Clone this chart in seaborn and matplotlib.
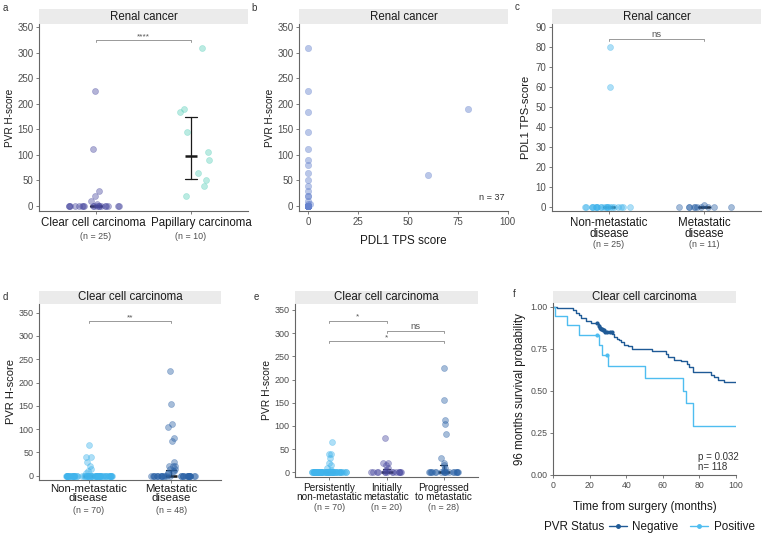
import numpy as np
import pandas as pd
import matplotlib
matplotlib.use("Agg")
import matplotlib.pyplot as plt
import seaborn as sns
from matplotlib.patches import Rectangle
from matplotlib.lines import Line2D

W, H = 762, 533

# ---------------- data ----------------
renal_groups = ["Clear cell carcinoma", "Papillary carcinoma"]
renal_n = [25, 10]
clear_cell_pvr = [225, 112, 30, 20, 10, 3] + [0] * 19
papillary_pvr = [310, 190, 185, 145, 105, 90, 65, 50, 40, 20]

pdl1_tps = [0] * 15 + [1, 60, 80] + [0] * 19
pdl1_pvr = [310, 225, 185, 145, 112, 90, 80, 65, 50, 40, 30, 20, 20, 10, 3] + [3, 60, 190] + [0] * 19

met_groups = ["Non-metastatic\ndisease", "Metastatic\ndisease"]
renal_met_n = [25, 11]
renal_nonmet_pdl1 = [80, 60] + [0] * 23
renal_met_pdl1 = [1] + [0] * 10

ccc_met_n = [70, 48]
ccc_nonmet_pvr = [65, 40, 40, 30, 20, 15, 10, 5] + [0] * 62
ccc_met_pvr = [225, 155, 112, 105, 82, 75, 30, 20, 20, 20, 15, 15, 10, 10, 5, 5] + [0] * 32

course_groups = ["Persistently\nnon-metastatic", "Initially\nmetastatic", "Progressed\nto metastatic"]
course_n = [70, 20, 28]
persist_pvr = ccc_nonmet_pvr
initial_pvr = [75, 20, 20, 15, 10, 5] + [0] * 14
progress_pvr = [225, 155, 112, 105, 82, 30, 20, 15, 10, 5] + [0] * 18

# Kaplan-Meier steps (months, survival)
neg_time = [0, 2, 11, 12.5, 14, 15.5, 18, 21, 24.5, 25, 25.5, 26, 27, 28, 32.5, 33.5, 35, 36,
            37, 39, 41, 43, 54, 62, 63, 66, 70, 73, 74.5, 76.5, 86.5, 88, 90, 93.5, 100]
neg_surv = [1.0, 0.99, 0.98, 0.965, 0.95, 0.93, 0.915, 0.905, 0.895, 0.885, 0.875, 0.865, 0.86,
            0.85, 0.835, 0.82, 0.81, 0.80, 0.79, 0.775, 0.765, 0.75, 0.737, 0.72, 0.70, 0.685,
            0.675, 0.66, 0.64, 0.61, 0.595, 0.58, 0.565, 0.55, 0.55]
neg_censor = [24, 25.2, 25.7, 26.3, 26.8, 27.3, 27.8, 28.5, 29.5, 31, 32]
pos_time = [0, 1, 7.5, 14, 25, 27, 30, 50, 71, 72.5, 76.5, 100]
pos_surv = [1.0, 0.944, 0.889, 0.833, 0.774, 0.714, 0.65, 0.577, 0.50, 0.43, 0.289, 0.289]
pos_censor = [24, 29.5]

# ---------------- style ----------------
sns.set_theme(style="ticks")
plt.rcParams['font.family'] = ['Liberation Sans', 'DejaVu Sans']
TICK_C = "#4d4d4d"
LABEL_C = "#1a1a1a"
SKY = "#40b4ec"
STEEL = "#2b62a6"
PURPLE = "#4a4aa0"
AQUA = "#5dd1bb"
LAVENDER = "#6783cd"

fig = plt.figure(figsize=(W / 100, H / 100), dpi=100)


def px_axes(l, t, r, b):
    return fig.add_axes([l / W, 1 - b / H, (r - l) / W, (b - t) / H])


def style_axes(ax, tick_size):
    sns.despine(ax=ax)
    for s in ("left", "bottom"):
        ax.spines[s].set_color("#666666")
        ax.spines[s].set_linewidth(0.8)
    ax.tick_params(length=2.5, width=0.6, color="#666666", labelcolor=TICK_C,
                   labelsize=tick_size, pad=1.5)


def strip(ax, title, px_h):
    h = px_h / (ax.get_position().height * H)
    ax.add_patch(Rectangle((0, 1), 1, h, transform=ax.transAxes, facecolor="#ebebeb",
                           edgecolor="none", clip_on=False))
    ax.text(0.5, 1 + h / 2, title, transform=ax.transAxes, ha="center", va="center",
            fontsize=8.3, color=LABEL_C)


def long_df(groups, values):
    return pd.DataFrame({"group": np.repeat(groups, [len(v) for v in values]),
                         "value": np.concatenate(values).astype(float)})


def draw_points(ax, df, order, colors, spread, edge_lw=0.5):
    for g in order:
        sub = df[df.group == g]
        for part, jit in ((sub[sub.value == 0], 0.3), (sub[sub.value != 0], spread[g])):
            if len(part):
                sns.stripplot(data=part, x="group", y="value", order=order, color=colors[g],
                              jitter=jit, size=4.3, alpha=0.42, linewidth=edge_lw,
                              edgecolor=colors[g], ax=ax)
    sns.pointplot(data=df, x="group", y="value", order=order, estimator="median",
                  errorbar=("pi", 50), color="#1a1a1a", marker="_", markersize=8.5,
                  markeredgewidth=1.8, linestyle="none", capsize=0.12,
                  err_kws={"linewidth": 0.9}, ax=ax)


def cat_labels(ax, order, ns, size, n_offset, n_size=6.4, shifts=None, top=4.2, spacing=0.88):
    shifts = shifts or [0] * len(order)
    ax.set_xticks(range(len(order)))
    ax.set_xticklabels([""] * len(order))
    for i, (lab, n, dx) in enumerate(zip(order, ns, shifts)):
        ax.annotate(lab, xy=(i, 0), xycoords=("data", "axes fraction"), xytext=(dx, -top),
                    textcoords="offset points", ha="center", va="top", fontsize=size,
                    color=LABEL_C, linespacing=spacing)
        ax.annotate(f"(n = {n})", xy=(i, 0), xycoords=("data", "axes fraction"),
                    xytext=(0, -n_offset), textcoords="offset points", ha="center",
                    va="center", fontsize=n_size, color=TICK_C)
    ax.set_xlabel("")


def sig_bar(ax, x1, x2, y, label, tip, size=6.5, gap=0.0):
    ax.plot([x1, x1, x2, x2], [y - tip, y, y, y - tip], color="#999999", lw=0.7, clip_on=False)
    ax.text((x1 + x2) / 2, y + gap, label, ha="center", va="bottom", fontsize=size,
            color="#555555")


np.random.seed(3)

# ---------------- a ----------------
ax = px_axes(39, 24, 248, 211)
df = long_df(renal_groups, [clear_cell_pvr, papillary_pvr])
draw_points(ax, df, renal_groups, {renal_groups[0]: PURPLE, renal_groups[1]: AQUA},
            {renal_groups[0]: 0.07, renal_groups[1]: 0.2})
ax.set_xlim(-0.6, 1.6)
ax.set_ylim(-9.8, 356.5)
ax.set_yticks(range(0, 351, 50))
style_axes(ax, 7)
cat_labels(ax, renal_groups, renal_n, 8.3, 18, shifts=[-2.2, 7.5])
ax.set_ylabel("PVR H-score", fontsize=7.2, color=LABEL_C, labelpad=2)
sig_bar(ax, 0, 1, 325, "****", 4, size=6)
strip(ax, "Renal cancer", 15)

# ---------------- b ----------------
ax = px_axes(299, 24, 508, 211)
sns.scatterplot(x=pdl1_tps, y=pdl1_pvr, color=LAVENDER, alpha=0.45, s=21, linewidth=0.4,
                edgecolor=LAVENDER, ax=ax)
ax.set_xlim(-4.6, 100.2)
ax.set_ylim(-9.8, 356.5)
ax.set_xticks([0, 25, 50, 75, 100])
ax.set_yticks(range(0, 351, 50))
style_axes(ax, 7)
ax.set_xlabel("PDL1 TPS score", fontsize=8.4, color=LABEL_C, labelpad=6)
ax.set_ylabel("PVR H-score", fontsize=7.2, color=LABEL_C, labelpad=2)
ax.text(0.985, 0.07, "n = 37", transform=ax.transAxes, ha="right", va="center",
        fontsize=6.6, color="#333333")
strip(ax, "Renal cancer", 15)

# ---------------- c ----------------
ax = px_axes(552, 24, 761, 211)
df = long_df(met_groups, [renal_nonmet_pdl1, renal_met_pdl1])
draw_points(ax, df, met_groups, {met_groups[0]: SKY, met_groups[1]: STEEL},
            {met_groups[0]: 0.03, met_groups[1]: 0.03})
ax.set_xlim(-0.6, 1.6)
ax.set_ylim(-2.0, 91.35)
ax.set_yticks(range(0, 91, 10))
style_axes(ax, 7)
cat_labels(ax, met_groups, renal_met_n, 8.3, 24)
ax.set_ylabel("PDL1 TPS-score", fontsize=8, color=LABEL_C, labelpad=3)
sig_bar(ax, 0, 1, 84, "ns", 1, size=6.8)
strip(ax, "Renal cancer", 15)

# ---------------- d ----------------
ax = px_axes(39, 304, 221, 480)
df = long_df(met_groups, [ccc_nonmet_pvr, ccc_met_pvr])
draw_points(ax, df, met_groups, {met_groups[0]: SKY, met_groups[1]: STEEL},
            {met_groups[0]: 0.04, met_groups[1]: 0.05})
ax.set_xlim(-0.6, 1.6)
ax.set_ylim(-9.2, 368.7)
ax.set_yticks(range(0, 351, 50))
style_axes(ax, 6.5)
cat_labels(ax, met_groups, ccc_met_n, 8.2, 22.2, top=3.0, spacing=0.8)
ax.set_ylabel("PVR H-score", fontsize=8, color=LABEL_C, labelpad=2)
sig_bar(ax, 0, 1, 332, "**", 4, size=6)
strip(ax, "Clear cell carcinoma", 13)

# ---------------- e ----------------
ax = px_axes(295, 304, 478, 477)
df = long_df(course_groups, [persist_pvr, initial_pvr, progress_pvr])
draw_points(ax, df, course_groups,
            {course_groups[0]: SKY, course_groups[1]: PURPLE, course_groups[2]: STEEL},
            {course_groups[0]: 0.05, course_groups[1]: 0.07, course_groups[2]: 0.05})
ax.set_xlim(-0.6, 2.6)
ax.set_ylim(-10.1, 362.9)
ax.set_yticks(range(0, 351, 50))
style_axes(ax, 6.5)
cat_labels(ax, course_groups, course_n, 7.2, 22.3)
ax.set_ylabel("PVR H-score", fontsize=7.4, color=LABEL_C, labelpad=2)
sig_bar(ax, 0, 1, 327, "*", 4, size=6)
sig_bar(ax, 1, 2, 305, "ns", 4, size=6.8)
sig_bar(ax, 0, 2, 283, "*", 4, size=6)
strip(ax, "Clear cell carcinoma", 13)

# ---------------- f ----------------
ax = px_axes(553, 303, 736, 475)
NEG_C, POS_C = "#1f5a96", "#4fbdf0"
for t, s, cens, col in ((neg_time, neg_surv, neg_censor, NEG_C),
                        (pos_time, pos_surv, pos_censor, POS_C)):
    sns.lineplot(x=t, y=s, drawstyle="steps-post", color=col, lw=1.0, estimator=None,
                 legend=False, ax=ax)
    cens_y = [s[np.searchsorted(t, c, side="right") - 1] for c in cens]
    sns.scatterplot(x=cens, y=cens_y, color=col, s=9, linewidth=0, ax=ax, zorder=3)
ax.set_xlim(0, 100)
ax.set_ylim(0, 1.022)
ax.set_xticks(range(0, 101, 20))
ax.set_yticks([0, 0.25, 0.5, 0.75, 1.0])
ax.set_yticklabels([f"{v:.2f}" for v in [0, 0.25, 0.5, 0.75, 1.0]])
style_axes(ax, 6.3)
ax.set_xlabel("Time from surgery (months)", fontsize=8.4, color=LABEL_C, labelpad=8)
ax.set_ylabel("96 months survival probability", fontsize=8.3, color=LABEL_C, labelpad=3)
ax.text(0.79, 0.135, "p = 0.032\nn= 118", transform=ax.transAxes, ha="left", va="top",
        fontsize=7, color="#333333", linespacing=1.0)
strip(ax, "Clear cell carcinoma", 12)

handles = [Line2D([], [], color=NEG_C, lw=1, marker="o", markersize=2.5),
           Line2D([], [], color=POS_C, lw=1, marker="o", markersize=2.5)]
fig.text(544 / W, 1 - 527 / H, "PVR Status", ha="left", va="center", fontsize=8.4,
         color=LABEL_C)
fig.legend(handles, ["Negative", "Positive"], ncol=2, loc="center left",
           bbox_to_anchor=(609 / W, 1 - 527 / H), frameon=False, fontsize=8.4,
           handlelength=1.55, handletextpad=0.45, columnspacing=1.0, borderpad=0,
           borderaxespad=0, labelcolor=LABEL_C)

# panel letters
for letter, x, y in (("a", 5, 8), ("b", 254, 8), ("c", 517, 7),
                     ("d", 5, 297), ("e", 256, 297), ("f", 514, 294)):
    fig.text(x / W, 1 - y / H, letter, ha="center", va="center", fontsize=7, color="#333333")

fig.savefig("out.png", dpi=100)
